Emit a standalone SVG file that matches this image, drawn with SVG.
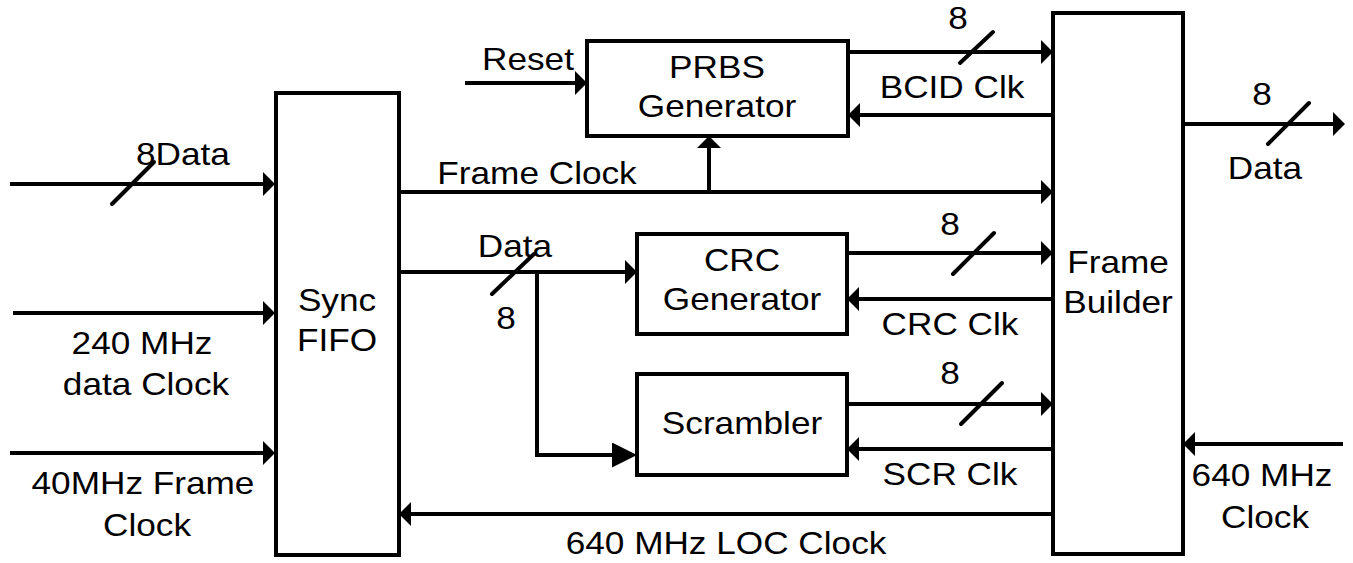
<svg xmlns="http://www.w3.org/2000/svg" width="1353" height="563" viewBox="0 0 1353 563">
<style>
.box{fill:#fff;stroke:#000;stroke-width:4}
.ln{fill:none;stroke:#000;stroke-width:4}
.ar{marker-end:url(#arr)}
.big{marker-end:url(#arrBig)}
.sl{stroke:#000;stroke-width:4;stroke-linecap:round}
text{font-family:"Liberation Sans",Arial,sans-serif;font-size:32px;fill:#000;text-anchor:middle}
.st{text-anchor:start}
</style>
<defs>
<marker id="arr" viewBox="0 0 12 24" markerWidth="12" markerHeight="24" refX="6" refY="12" orient="auto" markerUnits="userSpaceOnUse"><path d="M0,0L12,12L0,24z" fill="#000"/></marker>
<marker id="arrBig" viewBox="0 0 25 25" markerWidth="25" markerHeight="25" refX="13" refY="12.5" orient="auto" markerUnits="userSpaceOnUse"><path d="M0,0L25,12.5L0,25z" fill="#000"/></marker>
</defs>
<rect width="1353" height="563" fill="#fff"/>
<g id="connectors">
<path class="ln ar" d="M10,184H269"/>
<path class="ln ar" d="M13,313H269"/>
<path class="ln ar" d="M10,453H269"/>
<path class="ln ar" d="M465,83H581"/>
<path class="ln ar" d="M848,52H1047"/>
<path class="ln ar" d="M1053,115H854"/>
<path class="ln ar" d="M399,192H1047"/>
<path class="ln ar" d="M709,192V142"/>
<path class="ln ar" d="M399,272H631"/>
<path class="ln big" d="M537,272V455H625"/>
<path class="ln ar" d="M847,253H1047"/>
<path class="ln ar" d="M1053,299H853"/>
<path class="ln ar" d="M847,404H1047"/>
<path class="ln ar" d="M1053,449H853"/>
<path class="ln ar" d="M1053,514H405"/>
<path class="ln ar" d="M1183,124H1339"/>
<path class="ln ar" d="M1343,444H1189"/>
<line class="sl" x1="112" y1="204" x2="154" y2="162"/>
<line class="sl" x1="960" y1="63" x2="993" y2="32"/>
<line class="sl" x1="492" y1="294" x2="534" y2="254"/>
<line class="sl" x1="953" y1="274" x2="994" y2="233"/>
<line class="sl" x1="961" y1="424" x2="1002" y2="383"/>
<line class="sl" x1="1268" y1="144" x2="1309" y2="103"/>
<text transform="translate(136,165) scale(1.1,1)" class="st">8Data</text>
<text transform="translate(537,184) scale(1.1,1)">Frame Clock</text>
<text transform="translate(528,70) scale(1.1,1)">Reset</text>
<text transform="translate(958,29) scale(1.1,1)">8</text>
<text transform="translate(952,98) scale(1.1,1)">BCID Clk</text>
<text transform="translate(1262,105) scale(1.1,1)">8</text>
<text transform="translate(1265,179) scale(1.1,1)">Data</text>
<text transform="translate(515,257) scale(1.1,1)">Data</text>
<text transform="translate(506,329) scale(1.1,1)">8</text>
<text transform="translate(950,235) scale(1.1,1)">8</text>
<text transform="translate(950,335) scale(1.1,1)">CRC Clk</text>
<text transform="translate(950,384) scale(1.1,1)">8</text>
<text transform="translate(950,485) scale(1.1,1)">SCR Clk</text>
<text transform="translate(142,354) scale(1.1,1)">240 MHz</text>
<text transform="translate(146,395) scale(1.1,1)">data Clock</text>
<text transform="translate(143,494) scale(1.1,1)">40MHz Frame</text>
<text transform="translate(147,536) scale(1.1,1)">Clock</text>
<text transform="translate(726,554) scale(1.1,1)">640 MHz LOC Clock</text>
<text transform="translate(1262,486) scale(1.1,1)">640 MHz</text>
<text transform="translate(1265,528) scale(1.1,1)">Clock</text>
</g>
<g id="sync-fifo">
<rect class="box" x="276" y="93" width="123" height="462"/>
<text transform="translate(337,311) scale(1.1,1)">Sync</text>
<text transform="translate(337,351) scale(1.1,1)">FIFO</text>
</g>
<g id="prbs-generator">
<rect class="box" x="587" y="41" width="261" height="95"/>
<text transform="translate(717,78) scale(1.1,1)">PRBS</text>
<text transform="translate(717,117) scale(1.1,1)">Generator</text>
</g>
<g id="crc-generator">
<rect class="box" x="637" y="234" width="210" height="100"/>
<text transform="translate(742,271) scale(1.1,1)">CRC</text>
<text transform="translate(742,310) scale(1.1,1)">Generator</text>
</g>
<g id="scrambler">
<rect class="box" x="637" y="374" width="210" height="101"/>
<text transform="translate(742,434) scale(1.1,1)">Scrambler</text>
</g>
<g id="frame-builder">
<rect class="box" x="1053" y="13" width="130" height="541"/>
<text transform="translate(1118,273) scale(1.1,1)">Frame</text>
<text transform="translate(1118,313) scale(1.1,1)">Builder</text>
</g>
</svg>
